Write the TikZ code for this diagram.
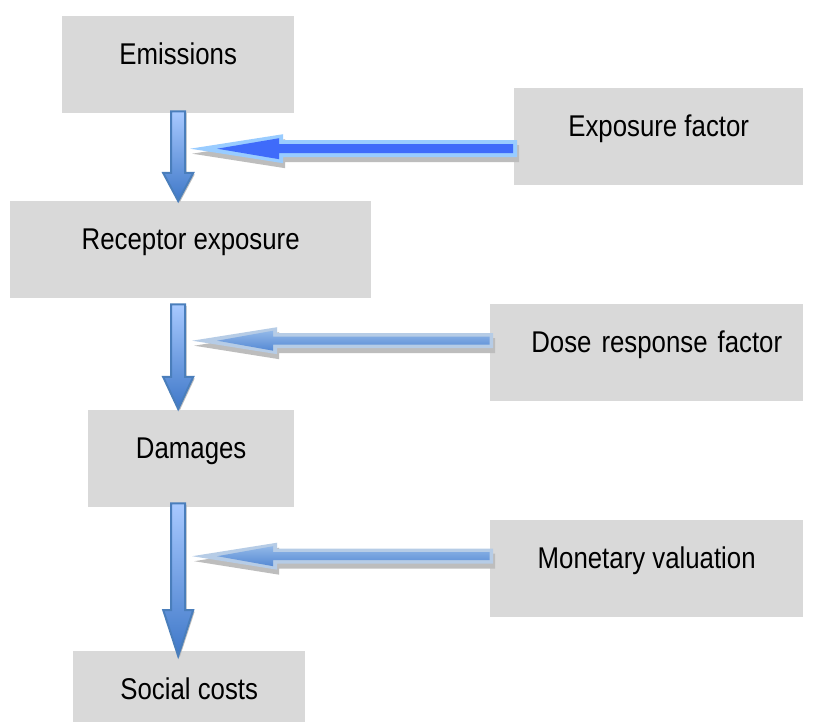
\documentclass[tikz,border=0pt]{standalone}
\usepackage{fontspec}
\setmainfont{Liberation Sans}[FakeStretch=0.86]
\usetikzlibrary{calc}
\definecolor{boxgray}{HTML}{D9D9D9}
\definecolor{vborder}{HTML}{4A7EBB}
\definecolor{vtop}{HTML}{A8C9FF}
\definecolor{vbot}{HTML}{3F78C8}
\definecolor{aoneout}{HTML}{99CCFF}
\definecolor{aonein}{HTML}{3F6BFA}
\definecolor{atwoout}{HTML}{B6CCE6}
\definecolor{atwotop}{HTML}{92B8E8}
\definecolor{atwobot}{HTML}{5589D4}
\definecolor{shadowgray}{HTML}{BDBDBD}
\newcommand\vblock[4]{% #1 top coord, #2 tip coord, #3 head length, #4 style
  \path[#4] ($(#1)+(-7,0)$) -- ($(#1)+(7,0)$) -- ($(#2)+(7,-#3)$) -- ($(#2)+(15,-#3)$)
    -- (#2) -- ($(#2)+(-15,-#3)$) -- ($(#2)+(-7,-#3)$) -- cycle;}
\newcommand\hblock[6]{% #1 tip, #2 end, #3 head length, #4 head half, #5 shaft half, #6 style
  \path[#6] (#1) -- ($(#1)+(#3,-#4)$) -- ($(#1)+(#3,-#5)$) -- ($(#2)+(0,-#5)$)
    -- ($(#2)+(0,#5)$) -- ($(#1)+(#3,#5)$) -- ($(#1)+(#3,#4)$) -- cycle;}
\begin{document}
\begin{tikzpicture}[x=1pt,y=-1pt,
  box/.style={fill=boxgray, draw=none, inner sep=0pt, text height=48.5pt, text depth=48.5pt,
    minimum height=97pt, font=\fontsize{30}{36}\selectfont, anchor=north west},
  varrow/.style={draw=vborder, line width=2pt, line join=miter, top color=vtop, bottom color=vbot},
  vshadow/.style={fill=shadowgray, transform canvas={shift={(1.5pt,-1.5pt)}}},
  hshadow/.style={fill=shadowgray, transform canvas={shift={(2pt,-5pt)}}},
  honeout/.style={fill=aoneout},
  honein/.style={fill=aonein},
  htwoout/.style={fill=atwoout},
  htwoin/.style={top color=atwotop, bottom color=atwobot},
]
\useasboundingbox (0,0) rectangle (815,722);
\clip (0,0) rectangle (815,722);
\fill[white] (0,0) rectangle (815,722);

\node[box, minimum width=232pt] (em) at (62,16) {Emissions};
\node[box, minimum width=361pt] (re) at (10,201) {Receptor exposure};
\node[box, minimum width=206pt] (da) at (88,410) {Damages};
\node[box, minimum width=232pt] (sc) at (73,651) {Social costs};
\node[box, minimum width=289pt] (ef) at (514,88) {Exposure factor};
\node[box, minimum width=313pt, text width=271pt, inner xsep=21pt, align=right] (dr) at (490,304) {Dose response factor};
\node[box, minimum width=313pt] (mv) at (490,520) {Monetary valuation};

% vertical arrows
\coordinate (v1a) at ($(em.south)+(0,-2)$);
\coordinate (v1b) at (v1a |- re.north);
\coordinate (v2a) at ($(v1a |- re.south)+(0,6)$);
\coordinate (v2b) at ($(v1a |- da.north)+(0,-1)$);
\coordinate (v3a) at ($(v1a |- da.south)+(0,-4)$);
\coordinate (v3b) at ($(v1a |- sc.north)+(0,5)$);
\vblock{v1a}{v1b}{28}{vshadow}
\vblock{v1a}{v1b}{28}{varrow}
\vblock{v2a}{v2b}{32}{vshadow}
\vblock{v2a}{v2b}{32}{varrow}
\vblock{v3a}{v3b}{46}{vshadow}
\vblock{v3a}{v3b}{46}{varrow}

% horizontal arrows
\coordinate (h1e) at ($(ef.west)+(3,12)$);
\coordinate (h1t) at ($(v1a |- h1e)+(12,0)$);
\coordinate (h1ei) at ($(h1e)+(-4,0)$);
\coordinate (h1ti) at ($(h1t)+(27,0)$);
\hblock{h1t}{h1e}{93}{14.5}{8.5}{hshadow}
\hblock{h1t}{h1e}{93}{14.5}{8.5}{honeout}
\hblock{h1ti}{h1ei}{62}{10.5}{4.5}{honein}

\coordinate (h2e) at ($(dr.west)+(3,-12)$);
\coordinate (h2t) at ($(v1a |- h2e)+(14,0)$);
\coordinate (h2ei) at ($(h2e)+(-3.5,0)$);
\coordinate (h2ti) at ($(h2t)+(25,0)$);
\hblock{h2t}{h2e}{85}{13.5}{7.5}{hshadow}
\hblock{h2t}{h2e}{85}{13.5}{7.5}{htwoout}
\hblock{h2ti}{h2ei}{56}{10}{4}{htwoin}

\coordinate (h3e) at ($(mv.west)+(3,-12.5)$);
\coordinate (h3t) at ($(v1a |- h3e)+(14,0)$);
\coordinate (h3ei) at ($(h3e)+(-3.5,0)$);
\coordinate (h3ti) at ($(h3t)+(25,0)$);
\hblock{h3t}{h3e}{85}{13.5}{7.5}{hshadow}
\hblock{h3t}{h3e}{85}{13.5}{7.5}{htwoout}
\hblock{h3ti}{h3ei}{56}{10}{4}{htwoin}
\end{tikzpicture}
\end{document}
